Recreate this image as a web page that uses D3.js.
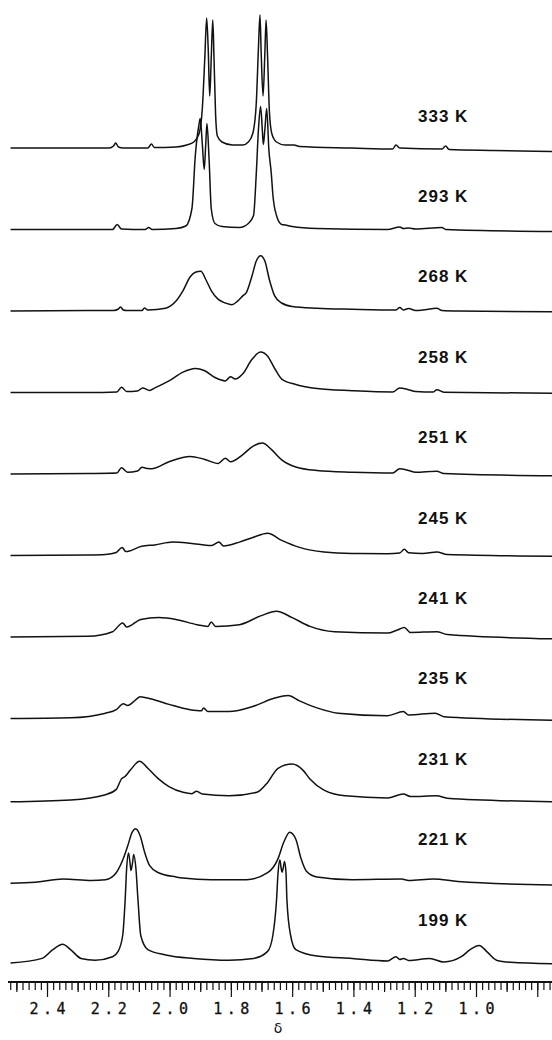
<!DOCTYPE html>
<html>
<head>
<meta charset="utf-8">
<script src="https://cdn.jsdelivr.net/npm/d3@7"></script>
<style>
  html, body { margin: 0; padding: 0; background: #fff; }
  svg { display: block; }
</style>
</head>
<body>
<svg id="chart" width="552" height="1040"></svg>
<script>
// temperatures, top to bottom
const temperatures = ['333 K', '293 K', '268 K', '258 K', '251 K', '245 K', '241 K', '235 K', '231 K', '221 K', '199 K']

// each spectrum: [delta (ppm), intensity above its own baseline]
const s333 = [[2.519,0],[2.323,0],[2.197,0],[2.183,2],[2.176,5],[2.167,1],[2.151,0],[2.071,0],[2.059,4],[2.050,0.5],[1.979,1],[1.944,3],[1.921,6],[1.904,14],[1.893,40],[1.885,90],[1.879,130],[1.874,100],[1.869,52],[1.864,90],[1.859,128],[1.855,90],[1.850,35],[1.844,12],[1.829,6],[1.795,3],[1.761,3],[1.743,6],[1.728,15],[1.717,45],[1.710,100],[1.705,133],[1.701,95],[1.695,52],[1.689,95],[1.685,128],[1.680,90],[1.674,35],[1.666,14],[1.651,6],[1.623,3],[1.594,3],[1.576,1.5],[1.404,0],[1.272,-1],[1.261,3],[1.249,0],[1.111,-1],[1.099,2],[1.088,-1.5],[0.944,-2.5],[0.751,-3.5]]
const s293 = [[2.519,0],[2.323,0],[2.186,0],[2.171,5],[2.157,0.5],[2.080,0],[2.068,2],[2.057,0],[1.979,1],[1.947,3.5],[1.927,21],[1.916,74],[1.904,105],[1.900,111],[1.893,85],[1.887,60],[1.882,85],[1.878,106],[1.871,70],[1.864,21],[1.852,6],[1.829,3],[1.772,2],[1.743,6],[1.726,14],[1.717,56],[1.710,100],[1.703,123],[1.697,98],[1.694,85],[1.689,100],[1.683,121],[1.676,80],[1.668,56],[1.663,35],[1.651,14],[1.634,5],[1.623,4.5],[1.600,3],[1.519,1],[1.289,0],[1.249,2.5],[1.237,1],[1.220,1.5],[1.197,0.5],[1.111,2],[1.099,0],[0.751,-2]]
const s268 = [[2.519,0],[2.266,0.5],[2.183,0.5],[2.167,2],[2.160,4],[2.151,1],[2.140,0.5],[2.090,0.5],[2.082,3],[2.071,1],[2.013,2.8],[1.979,9.9],[1.956,20.4],[1.933,34],[1.916,38.7],[1.898,39.8],[1.881,31],[1.864,20.4],[1.841,11.6],[1.818,8],[1.797,6.3],[1.778,9.9],[1.761,15.1],[1.749,18.7],[1.732,34],[1.717,50],[1.703,55.3],[1.689,50],[1.674,31],[1.657,15.1],[1.634,8],[1.600,4.6],[1.519,2.8],[1.404,1.8],[1.261,1],[1.249,3.5],[1.237,1],[1.220,2.5],[1.197,0.5],[1.174,1],[1.128,2.8],[1.111,0.5],[1.059,0],[0.751,-0.7]]
const s258 = [[2.519,0],[2.266,0],[2.172,0.5],[2.157,5.3],[2.140,1],[2.105,1.5],[2.088,4.6],[2.065,2],[2.048,4.6],[2.002,11.6],[1.956,20.4],[1.916,24],[1.887,22],[1.852,15],[1.818,11.6],[1.801,15.8],[1.786,13.4],[1.761,18.7],[1.732,32.7],[1.703,40.5],[1.680,36.3],[1.657,24],[1.634,13.4],[1.588,8],[1.519,3.9],[1.404,1.8],[1.272,0.5],[1.249,4.6],[1.220,2.8],[1.197,1],[1.139,0.5],[1.128,2.8],[1.105,0.3],[0.751,-0.7]]
const s251 = [[2.519,0],[2.266,0.5],[2.172,1],[2.157,6.3],[2.137,1.8],[2.105,3],[2.090,6.7],[2.071,5.5],[2.059,5.3],[2.002,12.3],[1.933,17.6],[1.887,14.8],[1.841,10.6],[1.818,15.8],[1.801,12.3],[1.761,19.4],[1.726,28.2],[1.697,31],[1.668,24.6],[1.634,14.1],[1.588,7],[1.519,3.5],[1.404,1.8],[1.272,1],[1.249,5.3],[1.220,3.5],[1.197,1.8],[1.128,2.8],[1.105,0.5],[0.751,-1.8]]
const s245 = [[2.519,0],[2.266,0.5],[2.209,1],[2.174,3],[2.155,8.1],[2.143,3.9],[2.091,9.2],[2.048,10.6],[1.990,13.4],[1.933,12.3],[1.864,9.9],[1.839,13.4],[1.824,9.5],[1.772,13.4],[1.726,18.3],[1.680,22.2],[1.634,15.1],[1.576,8.1],[1.496,3.5],[1.404,2],[1.289,1.8],[1.249,2.5],[1.234,6.3],[1.220,2.8],[1.174,2],[1.128,3.5],[1.094,1],[0.751,-0.7]]
const s241 = [[2.519,0],[2.266,0.7],[2.186,5.3],[2.153,14.1],[2.140,9.9],[2.094,17.6],[2.036,19.4],[1.979,17.6],[1.910,12.3],[1.875,10.6],[1.864,15.1],[1.850,10.6],[1.772,12.3],[1.703,21.1],[1.651,25.7],[1.600,19.4],[1.542,10.6],[1.462,5.3],[1.289,3.9],[1.257,7],[1.234,9.5],[1.214,4.6],[1.128,5.3],[1.094,2.5],[0.751,-1.8]]
const s235 = [[2.519,0],[2.323,0.7],[2.209,5.3],[2.174,8.8],[2.151,14.8],[2.137,13],[2.117,16.9],[2.096,21.8],[2.059,19.4],[2.002,14.1],[1.933,8.8],[1.896,7.7],[1.889,10.6],[1.875,7],[1.806,7],[1.726,12.3],[1.657,20.4],[1.613,22.9],[1.576,17.6],[1.519,10.6],[1.450,5.3],[1.289,2.8],[1.237,7],[1.220,3.5],[1.133,5.3],[1.105,1.8],[0.751,-1.8]]
const s231 = [[2.519,-1.8],[2.323,0],[2.209,5.3],[2.174,10.6],[2.157,21.1],[2.145,23.6],[2.128,29.9],[2.098,38.7],[2.071,31.7],[2.036,21.1],[2.002,13.4],[1.956,7.7],[1.927,6.3],[1.912,8.8],[1.893,6],[1.806,4.2],[1.715,7.7],[1.680,17.6],[1.646,31.7],[1.600,35.9],[1.565,29.9],[1.542,21.1],[1.496,9.9],[1.427,4.2],[1.289,2.1],[1.237,6],[1.214,3.5],[1.128,4.2],[1.094,1.8],[0.751,-1.8]]
const s221 = [[2.519,-1.8],[2.439,-0.7],[2.347,2.5],[2.255,1],[2.209,1.8],[2.174,8.8],[2.151,22.9],[2.137,35.2],[2.122,49.3],[2.111,52.8],[2.096,45.8],[2.082,29.9],[2.065,15.8],[2.036,8.8],[1.979,4.6],[1.956,3.5],[1.864,1.8],[1.749,1.8],[1.680,8.8],[1.646,22.9],[1.628,38.7],[1.608,49.3],[1.588,42.3],[1.571,22.9],[1.554,10.6],[1.519,4.6],[1.404,1.8],[1.243,2.5],[1.220,1],[1.139,2.5],[1.059,0],[0.751,-3.5]]
const s199 = [[2.519,0],[2.416,4.6],[2.381,13.4],[2.349,18.7],[2.323,13.4],[2.289,4.6],[2.243,2.8],[2.186,6.3],[2.168,11.6],[2.153,27.5],[2.145,62.7],[2.140,95],[2.134,110],[2.129,100],[2.126,92.5],[2.121,100],[2.117,108.6],[2.110,95],[2.103,62.7],[2.094,27.5],[2.071,13.4],[2.013,8.1],[1.921,4.6],[1.806,2.8],[1.726,4.6],[1.680,11.6],[1.663,27.5],[1.651,62.7],[1.646,90],[1.640,103],[1.636,95],[1.633,90.7],[1.629,95],[1.625,101.6],[1.620,90],[1.617,62.7],[1.605,27.5],[1.588,13.4],[1.519,7],[1.404,4.6],[1.289,2.1],[1.261,6.3],[1.249,3.5],[1.237,4.6],[1.220,2.5],[1.151,4.6],[1.105,1],[1.048,6.3],[1.019,13.4],[0.990,17.6],[0.962,10.6],[0.933,2.8],[0.887,0.7],[0.751,-0.7]]

const spectra = [s333, s293, s268, s258, s251, s245, s241, s235, s231, s221, s199]

// axis ticks (ppm) and labels
const minorTicks = d3.range(252, 74, -2).map(v => v / 100)
const midTicks = [2.5, 2.3, 2.1, 1.9, 1.7, 1.5, 1.3, 1.1, 0.9]
const majorTicks = [2.4, 2.2, 2.0, 1.8, 1.6, 1.4, 1.2, 1.0, 0.8]
const tickLabels = ['2.4', '2.2', '2.0', '1.8', '1.6', '1.4', '1.2', '1.0', '']
const axisTitle = 'δ'

const width = 552
const height = 1040
const axisY = 982

const svg = d3.select('#chart')

const x = d3.scaleLinear().domain([2.4, 1.0]).range([47, 476])
const row = d3.scalePoint().domain(temperatures).range([148, 963])
const labelRow = d3.scalePoint().domain(temperatures).range([115.5, 919.5])
const inten = d3.scaleLinear().domain([0, 100]).range([0, -100])

const line = d3.line()
  .x(d => x(d[0]))
  .y(d => inten(d[1]))
  .curve(d3.curveMonotoneX)

const traces = svg.append('g')
  .selectAll('g')
  .data(spectra)
  .join('g')
  .attr('transform', (d, i) => `translate(0,${row(temperatures[i])})`)

traces.append('path')
  .attr('d', line)
  .attr('fill', 'none')
  .attr('stroke', '#111')
  .attr('stroke-width', 1.5)
  .attr('stroke-linejoin', 'round')

svg.append('g')
  .selectAll('text')
  .data(temperatures)
  .join('text')
  .attr('x', 418)
  .attr('y', d => labelRow(d) + 6)
  .attr('font-family', 'Liberation Sans, Arial, sans-serif')
  .attr('font-size', 17)
  .attr('font-weight', 'bold')
  .attr('letter-spacing', 1)
  .attr('fill', '#111')
  .text(d => d)

// axis: same mapping as x, stretched over the full strip
const axisScale = x.copy().domain([x.invert(8), x.invert(width)]).range([8, width])

const axisG = svg.append('g').attr('transform', `translate(0,${axisY})`)

axisG.append('g')
  .call(d3.axisBottom(axisScale).tickValues(minorTicks).tickSize(8).tickFormat(''))
axisG.append('g')
  .call(d3.axisBottom(axisScale).tickValues(midTicks).tickSize(10).tickFormat(''))
axisG.append('g')
  .attr('class', 'major')
  .call(d3.axisBottom(axisScale).tickValues(majorTicks).tickSize(15).tickPadding(6)
    .tickFormat((d, i) => tickLabels[i]))

axisG.selectAll('.domain').remove()
axisG.selectAll('.tick line').attr('stroke', '#111').attr('stroke-width', 1.2)

axisG.append('line')
  .attr('x1', 8)
  .attr('x2', width)
  .attr('stroke', '#111')
  .attr('stroke-width', 1.8)

axisG.selectAll('.major text')
  .attr('font-family', 'DejaVu Sans Mono, monospace')
  .attr('font-size', 15)
  .attr('letter-spacing', 4.5)
  .attr('dx', 2.2)
  .attr('stroke', '#111')
  .attr('stroke-width', 0.3)
  .attr('fill', '#111')

svg.append('text')
  .attr('x', 278)
  .attr('y', 1033)
  .attr('text-anchor', 'middle')
  .attr('font-family', 'DejaVu Sans, sans-serif')
  .attr('font-size', 14)
  .attr('fill', '#111')
  .text(axisTitle)
</script>
</body>
</html>
